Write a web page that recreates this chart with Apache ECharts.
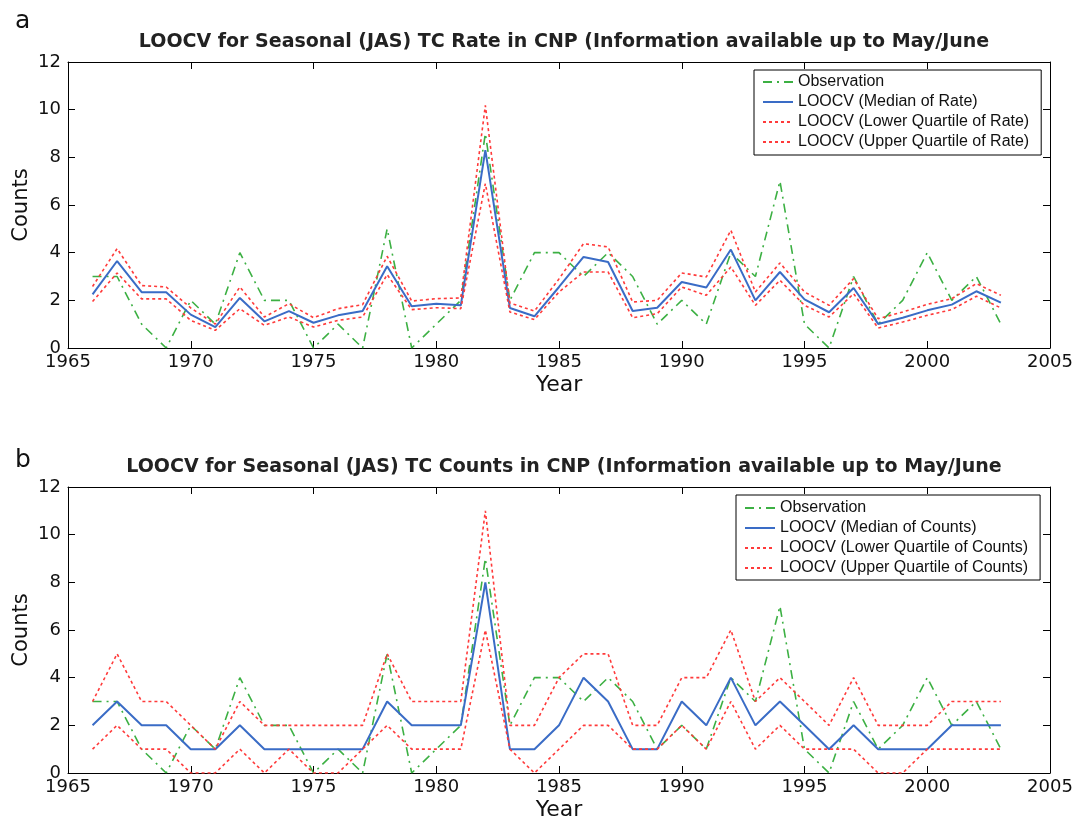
<!DOCTYPE html>
<html>
<head>
<meta charset="utf-8">
<script src="https://cdn.jsdelivr.net/npm/echarts@6/dist/echarts.min.js"></script>
<style>
html,body{margin:0;padding:0;background:#fff;}
#chart{width:1078px;height:829px;}
</style>
</head>
<body>
<div id="chart"></div>
<script>
// ---- data ----
var years = [1966,1967,1968,1969,1970,1971,1972,1973,1974,1975,1976,1977,1978,1979,1980,1981,1982,1983,1984,1985,1986,1987,1988,1989,1990,1991,1992,1993,1994,1995,1996,1997,1998,1999,2000,2001,2002,2003];
var observation = [3,3,1,0,2,1,4,2,2,0,1,0,5,0,1,2,9,2,4,4,3,4,3,1,2,1,4,3,7,1,0,3,1,2,4,2,3,1];

var rateMedian = [2.25,3.65,2.34,2.34,1.40,0.88,2.10,1.12,1.55,1.06,1.37,1.55,3.43,1.75,1.86,1.79,8.30,1.68,1.33,2.56,3.82,3.61,1.55,1.69,2.77,2.54,4.13,2.00,3.19,2.04,1.50,2.52,1.01,1.27,1.58,1.82,2.38,1.90];
var rateLower  = [1.95,3.15,2.06,2.06,1.16,0.74,1.65,0.95,1.30,0.88,1.16,1.30,3.08,1.61,1.69,1.65,6.90,1.51,1.19,2.35,3.19,3.19,1.27,1.44,2.56,2.21,3.40,1.79,2.84,1.79,1.30,2.28,0.84,1.09,1.37,1.61,2.17,1.68];
var rateUpper  = [2.58,4.17,2.62,2.56,1.68,1.00,2.56,1.30,1.86,1.27,1.65,1.82,3.85,1.97,2.07,2.10,10.18,1.89,1.55,2.90,4.38,4.24,1.93,2.00,3.15,2.98,4.94,2.35,3.57,2.35,1.79,2.91,1.23,1.51,1.83,2.07,2.70,2.21];

var countsMedian = [2,3,2,2,1,1,2,1,1,1,1,1,3,2,2,2,8,1,1,2,4,3,1,1,3,2,4,2,3,2,1,2,1,1,1,2,2,2];
var countsLower  = [1,2,1,1,0,0,1,0,1,0,0,1,2,1,1,1,6,1,0,1,2,2,1,1,2,1,3,1,2,1,1,1,0,0,1,1,1,1];
var countsUpper  = [3,5,3,3,2,1,3,2,2,2,2,2,5,3,3,3,11,2,2,4,5,5,2,2,4,4,6,3,4,3,2,4,2,2,2,3,3,3];

var xTicks = {min:1965, max:2005, interval:5};
var yTicks = {min:0, max:12, interval:2};

var titleA = 'LOOCV for Seasonal (JAS) TC Rate in CNP (Information available up to May/June';
var titleB = 'LOOCV for Seasonal (JAS) TC Counts in CNP (Information available up to May/June';
var namesA = ['Observation','LOOCV (Median of Rate)','LOOCV (Lower Quartile of Rate)','LOOCV (Upper Quartile of Rate)'];
var namesB = ['Observation','LOOCV (Median of Counts)','LOOCV (Lower Quartile of Counts)','LOOCV (Upper Quartile of Counts)'];

// ---- build ----
function pairs(v){ return years.map(function(y,i){ return [y, v[i]]; }); }
var FONT = 'DejaVu Sans, Verdana, sans-serif';
var LFONT = 'Liberation Sans, Arial, Helvetica, sans-serif';
var GREEN = '#3cb043', BLUE = '#3a6cc6', RED = '#ff3a3a';

function xAx(grid, pos, showLabel, gap){
  return {
    gridIndex:grid, type:'value', position:pos, min:xTicks.min, max:xTicks.max, interval:xTicks.interval,
    axisLine:{show:true, onZero:false, lineStyle:{color:'#000', width:1}},
    axisTick:{show:true, inside:true, length:7, lineStyle:{color:'#000'}},
    splitLine:{show:false},
    axisLabel:{show:showLabel, color:'#111', fontSize:18, fontFamily:FONT, margin:5, formatter:function(v){return String(v);}},
    name: showLabel ? 'Year' : '', nameLocation:'middle', nameGap:gap, nameMoveOverlap:false,
    nameTextStyle:{color:'#111', fontSize:22, fontFamily:FONT}
  };
}
function yAx(grid, pos, showLabel){
  return {
    gridIndex:grid, type:'value', position:pos, min:yTicks.min, max:yTicks.max, interval:yTicks.interval,
    axisLine:{show:true, onZero:false, lineStyle:{color:'#000', width:1}},
    axisTick:{show:true, inside:true, length:7, lineStyle:{color:'#000'}},
    splitLine:{show:false},
    axisLabel:{show:showLabel, color:'#111', fontSize:18, fontFamily:FONT, margin:7},
    name: showLabel ? 'Counts' : '', nameLocation:'middle', nameGap:36, nameRotate:90, nameMoveOverlap:false,
    nameTextStyle:{color:'#111', fontSize:21, fontFamily:FONT}
  };
}
function ser(name, data, xi, yi, color, type, width, z){
  return {
    name:name, type:'line', xAxisIndex:xi, yAxisIndex:yi, data:pairs(data),
    symbol:'none', showSymbol:false, silent:true, animation:false, z:z,
    lineStyle:{color:color, type:type, width:width}, itemStyle:{color:color}
  };
}
function legend(names, left, top, pad){
  return {
    orient:'vertical', left:left, top:top, data:names, padding:pad,
    itemWidth:30, itemHeight:14, itemGap:4, selectedMode:false,
    itemStyle:{opacity:0},
    borderColor:'#000', borderWidth:1, backgroundColor:'#fff',
    textStyle:{color:'#111', fontSize:16, fontFamily:LFONT}
  };
}

var option = {
  animation:false,
  backgroundColor:'#fff',
  title:[
    {text:'a', left:10, top:4, textStyle:{fontSize:25, fontWeight:'normal', color:'#111', fontFamily:FONT}},
    {text:titleA, left:559, top:28, textAlign:'center', textStyle:{fontSize:19, fontWeight:'bold', color:'#222', fontFamily:FONT}},
    {text:'b', left:10, top:443, textStyle:{fontSize:25, fontWeight:'normal', color:'#111', fontFamily:FONT}},
    {text:titleB, left:559, top:453, textAlign:'center', textStyle:{fontSize:19, fontWeight:'bold', color:'#222', fontFamily:FONT}}
  ],
  grid:[
    {left:68, top:62, width:982, height:286},
    {left:68, top:487, width:982, height:286}
  ],
  legend:[
    legend(namesA, 754, 70, [4,12,5,8]),
    legend(namesB, 736, 495, [5,12,4,8])
  ],
  xAxis:[ xAx(0,'bottom',true,26), xAx(0,'top',false,0), xAx(1,'bottom',true,26), xAx(1,'top',false,0) ],
  yAxis:[ yAx(0,'left',true), yAx(0,'right',false), yAx(1,'left',true), yAx(1,'right',false) ],
  series:[
    ser(namesA[0], observation, 0, 0, GREEN, [9,5,2,5], 1.6, 2),
    ser(namesA[1], rateMedian, 0, 0, BLUE, 'solid', 2, 3),
    ser(namesA[2], rateLower, 0, 0, RED, [3,3], 1.6, 4),
    ser(namesA[3], rateUpper, 0, 0, RED, [3,3], 1.6, 4),
    ser(namesB[0], observation, 2, 2, GREEN, [9,5,2,5], 1.6, 2),
    ser(namesB[1], countsMedian, 2, 2, BLUE, 'solid', 2, 3),
    ser(namesB[2], countsLower, 2, 2, RED, [3,3], 1.6, 4),
    ser(namesB[3], countsUpper, 2, 2, RED, [3,3], 1.6, 4)
  ]
};
var chart = echarts.init(document.getElementById('chart'), null, {renderer:'canvas'});
chart.setOption(option);
</script>
</body>
</html>
